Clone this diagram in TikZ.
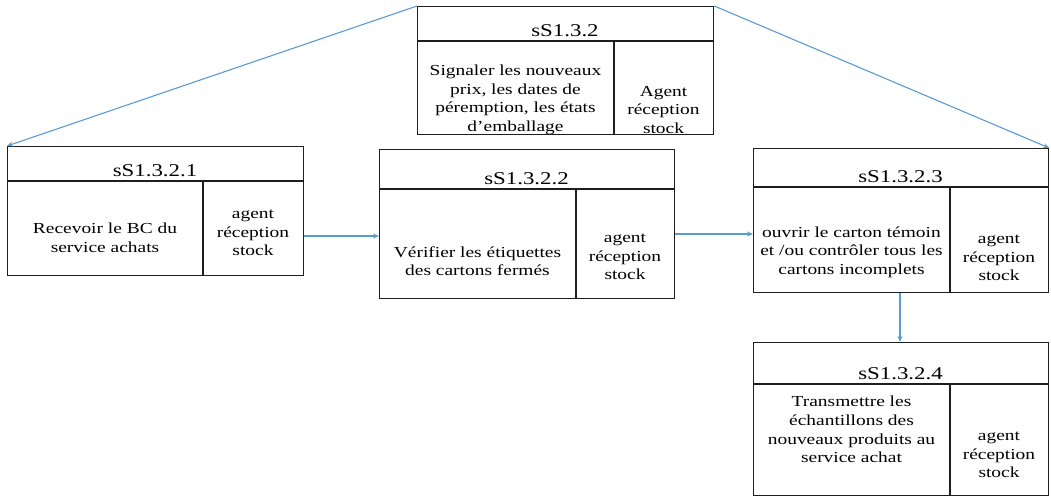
\documentclass[tikz,border=0pt]{standalone}
\usepackage{fontspec}
\setmainfont[FakeStretch=1.27]{Liberation Serif}
\usetikzlibrary{arrows.meta}
\definecolor{linkblue}{RGB}{91,155,213}
\definecolor{frame}{RGB}{30,30,30}
\tikzset{
  cell/.style={draw=frame, line width=1.3pt, rectangle, inner sep=0pt, anchor=north west},
  rule/.style={draw=frame, line width=1.3pt},
  title/.style={anchor=base, inner sep=0pt, font=\fontsize{18}{20}\selectfont},
  body/.style={align=center, inner sep=0pt, font=\fontsize{15.3}{18.6}\selectfont},
  link/.style={draw=linkblue, line width=1.1pt, -{Stealth[length=6pt,width=5pt]}}
}
\begin{document}
\begin{tikzpicture}[x=1pt,y=-1pt]
\useasboundingbox (0,0) rectangle (1051,497);

% parent task
\node[cell, minimum width=296pt, minimum height=128pt] (p) at (417,6) {};
\draw[rule] (417,41) -- (713,41);
\draw[rule] (614,41) -- (614,134);
\node[title] (pt) at (565,36.5) {sS1.3.2};
\node[body] (pl) at (515.5,100) {Signaler les nouveaux\\prix, les dates de\\péremption, les états\\d’emballage};
\node[body] (pr) at (663.5,110) {Agent\\réception\\stock};

% sub-task 1
\node[cell, minimum width=296pt, minimum height=129pt] (a) at (7,146) {};
\draw[rule] (7,181) -- (303,181);
\draw[rule] (203,181) -- (203,275);
\node[title] (at) at (155,176.5) {sS1.3.2.1};
\node[body] (al) at (105,237.5) {Recevoir le BC du\\service achats};
\node[body] (ar) at (253,233) {agent\\réception\\stock};

% sub-task 2
\node[cell, minimum width=295pt, minimum height=149pt] (b) at (379,149) {};
\draw[rule] (379,189) -- (674,189);
\draw[rule] (576,189) -- (576,298);
\node[title] (bt) at (526.5,184.5) {sS1.3.2.2};
\node[body] (bl) at (477.5,261) {Vérifier les étiquettes\\des cartons fermés};
\node[body] (br) at (625,257) {agent\\réception\\stock};

% sub-task 3
\node[cell, minimum width=295pt, minimum height=144pt] (c) at (753,148) {};
\draw[rule] (753,187) -- (1048,187);
\draw[rule] (950,187) -- (950,292);
\node[title] (ct) at (900.5,182.5) {sS1.3.2.3};
\node[body] (cl) at (851.5,252) {ouvrir le carton témoin\\et /ou contrôler tous les\\cartons incomplets};
\node[body] (cr) at (999,258) {agent\\réception\\stock};

% sub-task 4
\node[cell, minimum width=295pt, minimum height=153pt] (d) at (753,342) {};
\draw[rule] (753,384) -- (1048,384);
\draw[rule] (950,384) -- (950,495);
\node[title] (dt) at (900.5,379.5) {sS1.3.2.4};
\node[body] (dl) at (851.5,429.5) {Transmettre les\\échantillons des\\nouveaux produits au\\service achat};
\node[body] (dr) at (999,455) {agent\\réception\\stock};

% links
\draw[link] (p.north west) -- (a.north west);
\draw[link] (p.north east) -- (c.north east);
\draw[link] (a.east |- 0,236) -- (b.west |- 0,236);
\draw[link] (b.east |- 0,234) -- (c.west |- 0,234);
\draw[link] (c.south -| 900,0) -- (d.north -| 900,0);
\end{tikzpicture}
\end{document}
